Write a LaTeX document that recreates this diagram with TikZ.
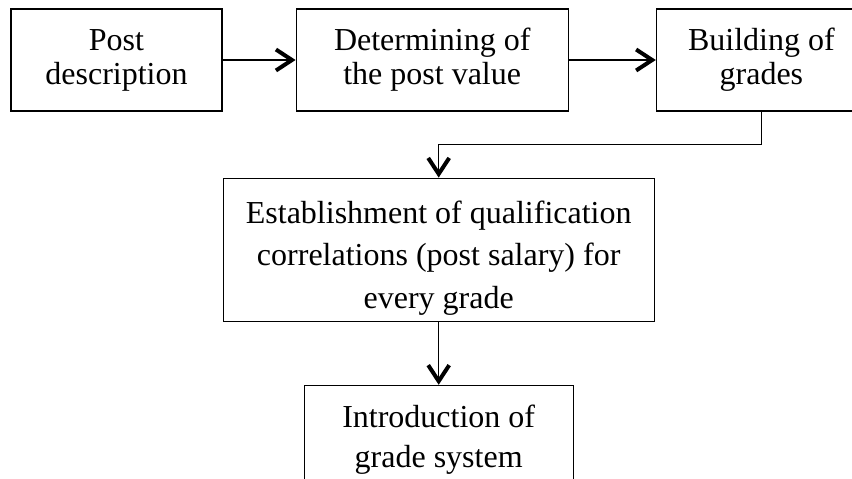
\documentclass[tikz,border=0pt]{standalone}
\usepackage{fontspec}
\setmainfont{Liberation Serif}
\usetikzlibrary{positioning}
\usetikzlibrary{arrows.meta}

\begin{document}
\begin{tikzpicture}[x=1pt,y=1pt,
	box/.style={draw,line width=1.2pt,align=center,inner sep=0pt,minimum height=102pt,
		font=\fontsize{32}{#1}\selectfont},
	box/.default=34,
	flow/.style={line width=1.2pt,-{Straight Barb[length=16pt,width=21pt,line width=4pt]}}]
	\clip (0,0) rectangle (852,-479);
	%% top row
	\node[box,minimum width=211pt] (post) at (116.5,-60) {Post\\description};
	\node[box,minimum width=272pt,right = 73pt of post] (value) {Determining of\\the post value};
	\node[box,minimum width=210pt,right = 87pt of value] (grades) {Building of\\grades};
	%% lower boxes
	\node[box=42.5,minimum width=431pt,minimum height=143pt,below = 66pt of value,xshift=6.5pt] (establ)
		{\rule{0pt}{39pt}Establishment of qualification\\correlations (post salary) for\\every grade};
	\node[box=40,minimum width=269pt,minimum height=108pt,below = 63pt of establ] (intro)
		{Introduction of\\grade system};
	% connect the boxes
	\draw[flow] (post) -- (value);
	\draw[flow] (value) -- (grades);
	\draw[flow] (grades.south) -- ++(0,-33) -| (establ.north);
	\draw[flow] (establ) -- (intro);
\end{tikzpicture}
\end{document}
